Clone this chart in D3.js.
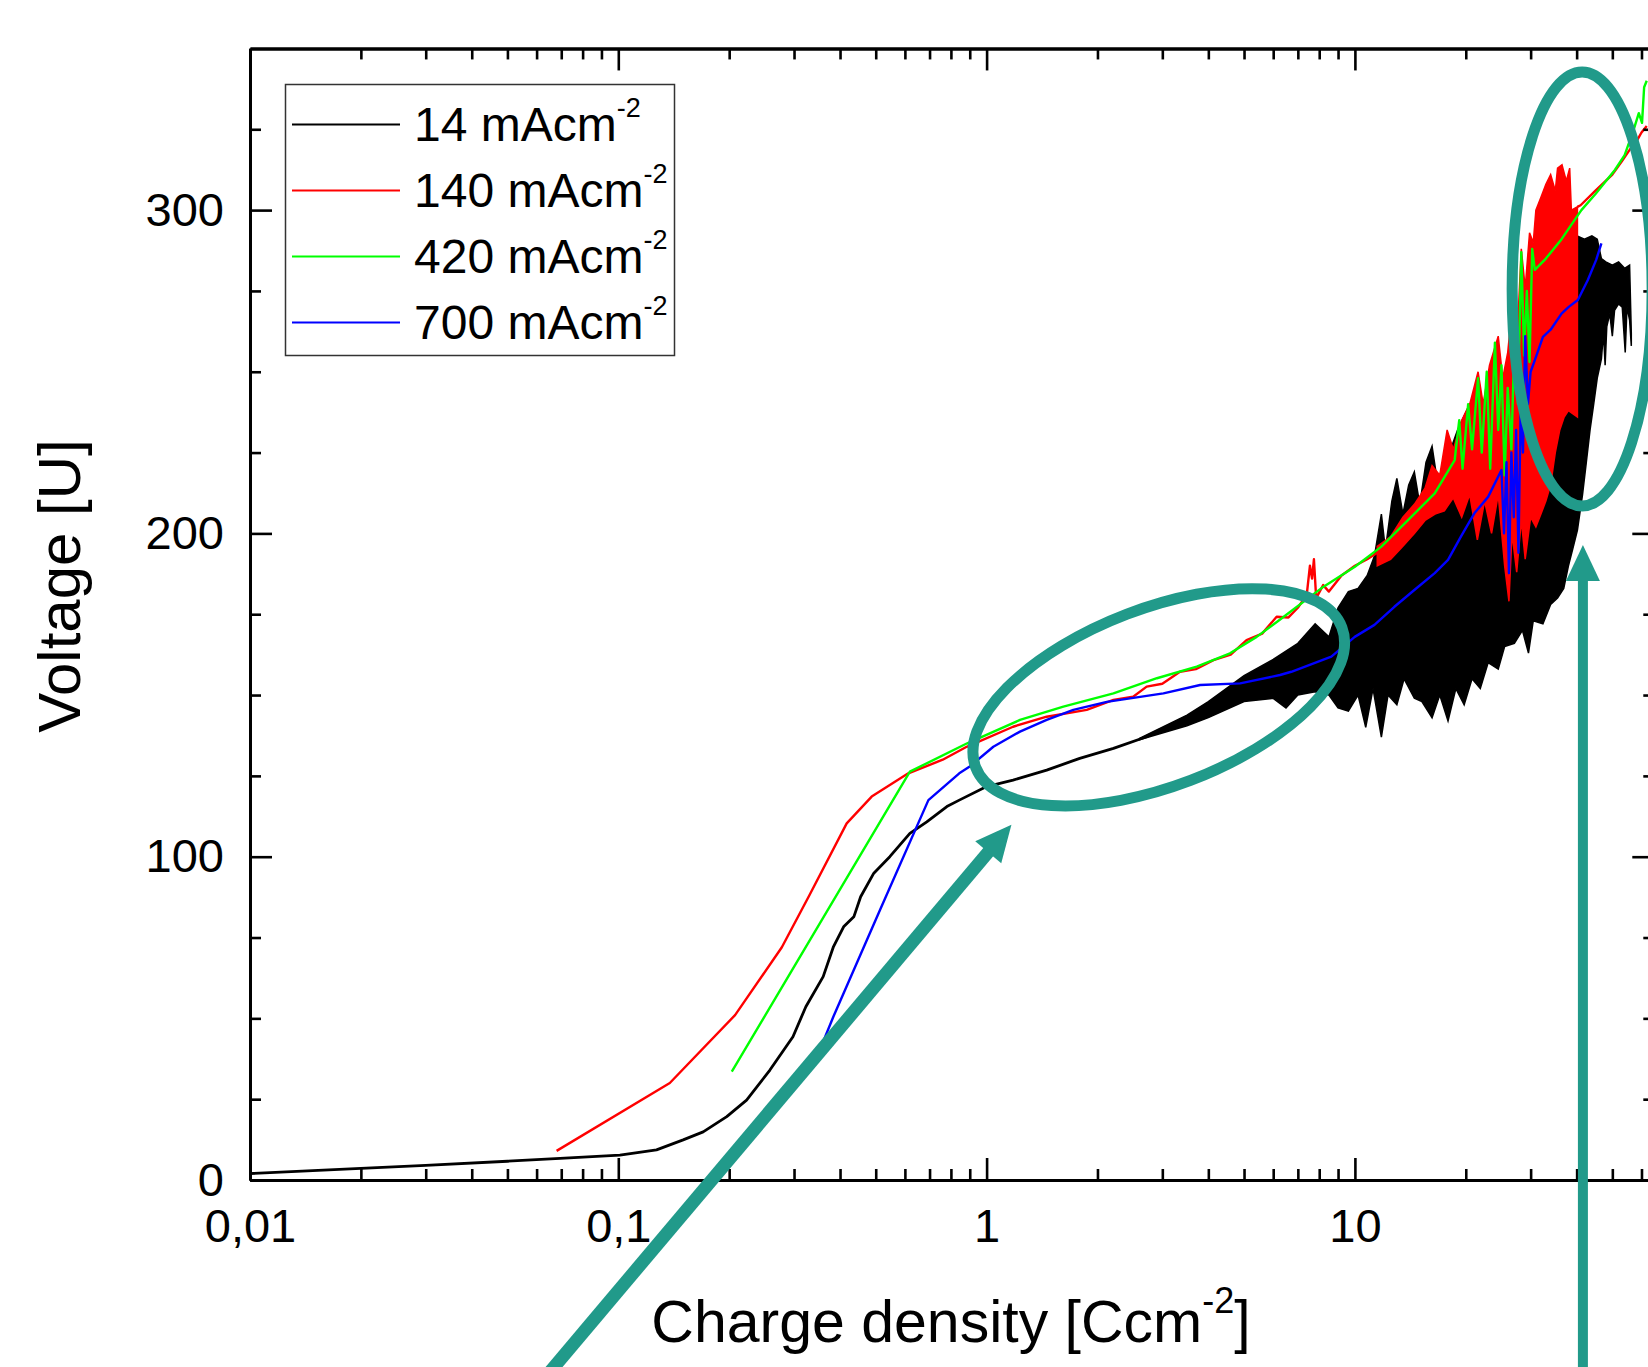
<!DOCTYPE html>
<html>
<head>
<meta charset="utf-8">
<script src="https://cdnjs.cloudflare.com/ajax/libs/d3/7.8.5/d3.min.js"></script>
<style>
  body { margin: 0; background: #fff; }
  svg text { font-family: "Liberation Sans", Arial, sans-serif; fill: #000; }
  .axis .domain { stroke: #000; stroke-width: 3; }
  .axis .tick line { stroke: #000; stroke-width: 2.6; }
  .axis .tick text { font-size: 47px; }
</style>
</head>
<body>
<svg id="chart"></svg>
<script>
// ---- values (x: charge density C/cm², y: voltage) ----
const legendLabels = ["14 mAcm", "140 mAcm", "420 mAcm", "700 mAcm"];
const legendColors = ["#000000", "#ff0000", "#00ff00", "#0000ff"];

const xLabelTicks = [0.01, 0.1, 1, 10];
const yLabelTicks = [0, 100, 200, 300];

// 14 mA: smooth start, then a noisy band (upper / lower envelope)
const black14 = [[0.01,2.0],[0.02,3.6],[0.03,4.5],[0.05,5.8],[0.0695,6.7],[0.101,7.7],[0.127,9.3],[0.15,12.4],
  [0.17,14.9],[0.197,19.6],[0.223,24.7],[0.258,34],[0.298,44.3],[0.323,53.6],[0.36,62.9],[0.384,72.2],[0.409,78.3],
  [0.436,81.4],[0.455,87.6],[0.494,94.9],[0.546,100],[0.619,107.2],[0.688,110.8],[0.78,115.5],[0.843,117.5],
  [1.0,121.7],[1.18,123.7],[1.456,126.8],[1.79,130.4],[2.21,133.5],[2.72,137.1],[3.35,141.8],[4.13,146.4],[5.08,152.6]];
const black14Upper = [[2.6,136.6],[3.5,143.8],[4.0,148],[5.0,156],[6.0,161],[7.0,166],[7.8,172],[8.5,168],[9.0,177],[9.6,182],
  [10.2,183],[10.8,187],[11.3,193],[11.8,206],[12.1,195],[12.6,210],[13.0,217],[13.5,206],[14.0,215],[14.5,219],
  [15.0,209],[15.6,222],[16.2,227],[16.8,215],[17.5,224],[18.2,226],[19.0,232],[20.3,239],[21.0,230],[22,236],
  [24,238],[26,240],[28,244],[30,248],[31.4,275],[32,246],[34,244],[36.6,286],[37,242],[39.5,240],
  [40.1,292],[42,291],[44,292],[45.5,291],[46.7,285],[48,284],[50,283],[52,284],[54,282],[55.7,283],[56.3,262]];
const black14Lower = [[2.6,136.2],[3.5,140.5],[4.0,143],[5.0,148],[6.0,149],[6.5,146],[7.0,150],[7.8,151],[8.5,150],[9.0,146],
  [9.6,145],[10.2,150],[10.7,140],[11.2,152],[11.8,137],[12.3,150],[13.0,147],[13.6,155],[14.5,149],[15.2,148],
  [16.2,143],[17.0,150],[17.9,142],[18.8,152],[19.8,147],[20.8,155],[21.9,152],[23,160],[24.5,158],[25.5,165],
  [27.1,166],[28.5,170],[29.6,163],[30.5,173],[32.4,172],[34,178],[35.5,180],[36.9,183],[38,190],[39,195],
  [40.2,201],[41.5,212],[42.5,222],[43.5,232],[44.5,240],[45.5,248],[46.7,254],[47.3,262],[47.8,252],[48.3,264],
  [49.2,268],[50,261],[50.7,269],[52,271],[53.2,270],[54.2,256],[54.8,270],[55.7,266],[56.3,258]];

// 140 mA
const red140 = [[0.068,9],[0.138,30],[0.2075,51],[0.278,72],[0.33,88],[0.417,110.3],[0.4875,118.6],[0.613,125.8],
  [0.76,130],[0.883,134],[1.18,140.2],[1.456,143.3],[1.87,145.4],[2.21,148.5],[2.5,149.5],[2.72,152.6],[3.0,153.5],
  [3.35,157.2],[3.7,158],[4.13,160.8],[4.6,162.5],[5.08,167],[5.6,169],[6.13,174.2],[6.6,174],[7.0,177],[7.4,181],
  [7.55,190],[7.65,186],[7.74,192],[7.85,180],[8.2,184],[8.5,182],[9.2,187],[10,190],[10.8,192],[11.5,194]];
const red140Upper = [[11.5,196],[12.5,199],[13.5,205],[14.5,209],[15.5,214],[16.2,221],[17,218],[17.8,232],
  [18.5,226],[19.5,235],[20.5,240],[21.6,250],[22.3,240],[23.2,252],[24.5,261],[25.2,248],[26,256],[27,275],
  [27.6,262],[28.3,288],[29,276],[29.8,293],[30.5,290],[31,300],[32,304],[33,308],[34,311],[35,306],[35.5,313],
  [36.5,314],[37.5,309],[38.3,313],[38.7,300],[40.2,301]];
const red140Lower = [[11.5,190],[12.5,192],[13.5,196],[14.5,200],[15.5,204],[16.5,206],[17.5,207],[18.5,211],
  [19.5,205],[20.5,212],[21.5,198],[22.5,210],[23.5,200],[24.5,212],[25.5,190],[26.2,179],[26.7,200],[27.5,188],
  [28.3,204],[29,192],[30,205],[31,202],[32,206],[33,210],[34,215],[35,225],[36,232],[37,236],[38,238],[40.2,236]];
const red140Tail = [[40.2,301],[41,301.5],[45,306],[50,311],[53,315],[56,319],[58,321],[60,324],[62,326]];

// 420 mA
const green420 = [[0.2033,33.5],[0.619,126.3],[0.883,135],[1.232,142.3],[1.616,146.4],[2.21,150.5],[2.9,155.2],
  [3.72,158.8],[4.58,162.9],[5.41,168],[6.2,173],[8.1,183],[10,189.7],[11.8,195.9],[13.94,204.1],[16.47,212.4],
  [18.66,222.7],[19.2,235],[19.6,220],[20.3,240],[20.8,226],[21.6,248],[22.1,225],[22.8,250],[23.3,220],[24.0,259],
  [24.5,232],[25.0,252],[25.5,218],[26.0,245],[26.6,226],[27.2,265],[27.7,240],[28.3,287],[28.8,255],[29.3,275],
  [29.8,253],[30.3,288],[30.8,281.5],[33,285],[36.4,291],[41.2,300],[45,305],[50.8,312.4],[54,317],[57,324.5],
  [59,330],[60.2,327],[61,338],[62,340]];

// 700 mA
const blue700 = [[0.342,36.6],[0.3836,50.5],[0.5135,83.5],[0.695,117.5],[0.843,125.8],[0.9,127.9],[1.043,134],
  [1.232,138.7],[1.456,142.3],[1.72,145.4],[2.12,147.9],[3.02,150.5],[3.8,153.1],[4.88,153.6],[6.26,156.2],
  [6.72,157.2],[8.63,161.9],[9.99,168],[11.3,171.7],[12.8,177.3],[14.5,182.5],[16.47,187.7],[17.9,191.8],
  [19.4,199],[21.1,206.2],[23.0,211.3],[25.0,219.6],[25.4,200],[25.8,222],[26.2,187.7],[26.6,225],[27.0,205],
  [27.4,232],[27.8,194],[28.2,240],[28.6,225],[29.0,261],[29.5,240],[30.0,250],[30.8,253.6],[32.4,260.8],
  [34,263],[36.4,268],[38,270],[40.3,272.2],[42.9,278.4],[45.2,284.6],[46.7,289.7]];

// teal annotations, anchored in data coordinates
const ellipseMarks = [{x: 2.934, v: 149.3, rx: 196, ry: 89, angle: -20.9},
                      {x: 41.4, v: 275.6, rx: 70, ry: 217, angle: 0}];
const arrowMarks = [{from: [0.0645, -60], to: [1.168, 109.9], shaft: 13},
                    {from: [41.6, -60], to: [41.6, 196.4], shaft: 10}];

// ---- layout ----
const W = 1648, H = 1367;
const left = 250, bottom = 1180, decade = 368.3, perVolt = 3.233;
const xMax = 65, yMax = 350;
const teal = "#219a8a";

const svg = d3.select("#chart").attr("width", W).attr("height", H);
svg.append("rect").attr("width", W).attr("height", H).attr("fill", "#fff");

const x = d3.scaleLog().domain([0.01, xMax]).range([left, left + decade * Math.log10(xMax / 0.01)]);
const y = d3.scaleLinear().domain([0, yMax]).range([bottom, bottom - yMax * perVolt]);

const xMinor = [];
[0.01, 0.1, 1, 10].forEach(d => { for (let k = 2; k <= 9; k++) if (d * k <= xMax) xMinor.push(d * k); });
const yMinor = d3.range(25, yMax, 25).filter(v => v % 100 !== 0);

const line = d3.line().x(d => x(d[0])).y(d => y(d[1]));

function drawLine(data, color, width) {
  svg.append("path").datum(data).attr("d", line)
    .attr("fill", "none").attr("stroke", color).attr("stroke-width", width)
    .attr("stroke-linejoin", "round");
}
function drawBand(upper, lower, color) {
  const poly = upper.concat(lower.slice().reverse());
  svg.append("path").datum(poly).attr("d", d => line(d) + "Z")
    .attr("fill", color).attr("stroke", color).attr("stroke-width", 1.5)
    .attr("stroke-linejoin", "miter");
}

// curves
drawLine(black14, "#000", 2.8);
drawBand(black14Upper, black14Lower, "#000");
drawLine(red140, "#ff0000", 2.4);
drawBand(red140Upper, red140Lower, "#ff0000");
drawLine(red140Tail, "#ff0000", 2.4);
drawLine(green420, "#00ff00", 2.4);
drawLine(blue700, "#0000ff", 2.4);

// axes
const fmt = d => String(d).replace(".", ",");
function axis(gen, tx, ty) {
  svg.append("g").attr("class", "axis").attr("transform", `translate(${tx},${ty})`).call(gen);
}
axis(d3.axisBottom(x).tickValues(xMinor).tickSize(-11).tickSizeOuter(0).tickFormat(""), 0, bottom);
axis(d3.axisBottom(x).tickValues(xLabelTicks).tickSize(-22).tickSizeOuter(0).tickPadding(29).tickFormat(fmt), 0, bottom);
axis(d3.axisTop(x).tickValues(xMinor).tickSize(-11).tickSizeOuter(0).tickFormat(""), 0, y(yMax));
axis(d3.axisTop(x).tickValues(xLabelTicks).tickSize(-22).tickSizeOuter(0).tickFormat(""), 0, y(yMax));
axis(d3.axisLeft(y).tickValues(yMinor).tickSize(-11).tickSizeOuter(0).tickFormat(""), left, 0);
axis(d3.axisLeft(y).tickValues(yLabelTicks).tickSize(-22).tickSizeOuter(0).tickPadding(26), left, 0);
axis(d3.axisRight(y).tickValues(yMinor).tickSize(-11).tickSizeOuter(0).tickFormat(""), x(xMax), 0);
axis(d3.axisRight(y).tickValues(yLabelTicks).tickSize(-22).tickSizeOuter(0).tickFormat(""), x(xMax), 0);

// axis titles
const xt = svg.append("text").attr("x", 951).attr("y", 1342).attr("text-anchor", "middle").attr("font-size", 59);
xt.append("tspan").text("Charge density [Ccm");
xt.append("tspan").attr("font-size", 36).attr("dy", -29).text("-2");
xt.append("tspan").attr("font-size", 59).attr("dy", 29).text("]");

svg.append("text").attr("transform", "translate(80,586) rotate(-90)")
  .attr("text-anchor", "middle").attr("font-size", 60).text("Voltage [U]");

// legend
const lg = svg.append("g");
lg.append("rect").attr("x", 285.5).attr("y", 84.5).attr("width", 389).attr("height", 271)
  .attr("fill", "#fff").attr("stroke", "#333").attr("stroke-width", 1.5);
legendLabels.forEach((lab, i) => {
  const ly = 124.5 + i * 66;
  lg.append("line").attr("x1", 292).attr("x2", 400).attr("y1", ly).attr("y2", ly)
    .attr("stroke", legendColors[i]).attr("stroke-width", 2.2);
  const t = lg.append("text").attr("x", 414).attr("y", ly + 16).attr("font-size", 48);
  t.append("tspan").text(lab);
  t.append("tspan").attr("font-size", 27).attr("dy", -24).text("-2");
});

// annotations
ellipseMarks.forEach(e => {
  svg.append("ellipse")
    .attr("transform", `translate(${x(e.x)},${y(e.v)}) rotate(${e.angle})`)
    .attr("rx", e.rx).attr("ry", e.ry)
    .attr("fill", "none").attr("stroke", teal).attr("stroke-width", 11);
});
arrowMarks.forEach(a => {
  const p0 = [x(a.from[0]), y(a.from[1])], p1 = [x(a.to[0]), y(a.to[1])];
  const len = Math.hypot(p1[0] - p0[0], p1[1] - p0[1]);
  const u = [(p1[0] - p0[0]) / len, (p1[1] - p0[1]) / len], n = [-u[1], u[0]];
  const headLen = 36, half = 17;
  const base = [p1[0] - u[0] * headLen, p1[1] - u[1] * headLen];
  svg.append("line").attr("x1", p0[0]).attr("y1", p0[1])
    .attr("x2", base[0] + u[0] * 2).attr("y2", base[1] + u[1] * 2)
    .attr("stroke", teal).attr("stroke-width", a.shaft);
  svg.append("path")
    .attr("d", `M${p1[0]},${p1[1]}L${base[0] + n[0] * half},${base[1] + n[1] * half}L${base[0] - n[0] * half},${base[1] - n[1] * half}Z`)
    .attr("fill", teal);
});
</script>
</body>
</html>
